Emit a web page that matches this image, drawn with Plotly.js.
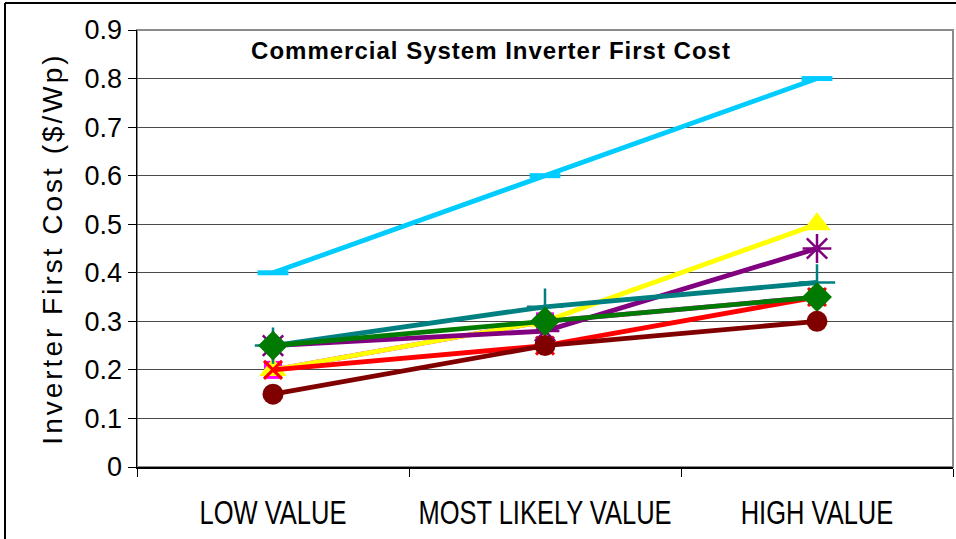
<!DOCTYPE html>
<html>
<head>
<meta charset="utf-8">
<script src="https://cdn.plot.ly/plotly-3.0.1.min.js"></script>
<style>
  html, body { margin: 0; padding: 0; background: #ffffff; }
  #chart { width: 956px; height: 539px; }
  .ytitle { letter-spacing: 3px; }
  .gtitle { letter-spacing: 1px; }
</style>
</head>
<body>
<div id="chart"></div>
<script>
// Inverter first cost estimates ($/Wp) per scenario, one array per source
const categories = ["LOW VALUE", "MOST LIKELY VALUE", "HIGH VALUE"];

const seriesCyan    = [0.40, 0.60, 0.80];
const seriesMagenta = [0.20, 0.30, 0.35];
const seriesYellow  = [0.20, 0.30, 0.50];
const seriesRed     = [0.20, 0.25, 0.35];
const seriesPurple  = [0.25, 0.28, 0.45];
const seriesTeal    = [0.25, 0.33, 0.38];
const seriesGreen   = [0.25, 0.30, 0.35];
const seriesDarkRed = [0.15, 0.25, 0.30];

const yTicks = [0, 0.1, 0.2, 0.3, 0.4, 0.5, 0.6, 0.7, 0.8, 0.9];
const yTickText = ["0", "0.1", "0.2", "0.3", "0.4", "0.5", "0.6", "0.7", "0.8", "0.9"];

const LW = 4.8;

function series(y, color, marker) {
  return {
    type: "scatter",
    mode: "lines+markers",
    x: categories,
    y: y,
    line: { color: color, width: LW },
    marker: marker,
    showlegend: false,
    hoverinfo: "x+y"
  };
}

const traces = [
  series(seriesCyan, "#00CCFF",
    { symbol: "line-ew-open", size: 22, color: "#00CCFF", line: { color: "#00CCFF", width: 5 } }),
  series(seriesMagenta, "#FF00FF",
    { symbol: "square", size: 18, color: "#FF00FF", line: { width: 0 } }),
  series(seriesYellow, "#FFFF00",
    { symbol: "triangle-up", size: 24, color: "#FFFF00", line: { width: 0 } }),
  series(seriesRed, "#FF0000",
    { symbol: "x-thin-open", size: 18, color: "#FF0000", line: { color: "#FF0000", width: 3 } }),
  series(seriesPurple, "#800080",
    { symbol: "asterisk-open", size: 24, color: "#800080", line: { color: "#800080", width: 2.5 } }),
  series(seriesTeal, "#008080",
    { symbol: "cross-thin-open", size: 26, color: "#008080", line: { color: "#008080", width: 2.5 } }),
  series(seriesGreen, "#007A00",
    { symbol: "diamond", size: 23, color: "#007A00", line: { width: 0 } }),
  series(seriesDarkRed, "#800000",
    { symbol: "circle", size: 21, color: "#800000", line: { width: 0 } })
];

const font = "Liberation Sans, Arial, sans-serif";

// plot area: x 137..953 px, y 30..467 px
const px = v => (v - 137) / 816;
const py = v => (467 - v) / 437;

const layout = {
  width: 956,
  height: 539,
  margin: { l: 137, r: 3, t: 30, b: 72, pad: 0 },
  paper_bgcolor: "#ffffff",
  plot_bgcolor: "#ffffff",
  title: {
    text: "<b>Commercial System Inverter First Cost</b>",
    font: { family: font, size: 24, color: "#000000" },
    xref: "paper",
    x: px(491),
    xanchor: "center",
    yref: "container",
    y: 1 - 51 / 539,
    yanchor: "middle"
  },
  xaxis: {
    type: "category",
    categoryorder: "array",
    categoryarray: categories,
    range: [-0.5, 2.5],
    tickson: "boundaries",
    ticks: "outside",
    ticklen: 8,
    tickwidth: 1,
    tickcolor: "#000000",
    tickangle: 0,
    showline: true,
    linecolor: "#000000",
    linewidth: 1.5,
    showgrid: false,
    zeroline: false,
    tickfont: { family: font, size: 34, color: "#000000" },
    ticklabelstandoff: 15,
    automargin: false,
    fixedrange: true
  },
  yaxis: {
    range: [0, 0.9],
    tickmode: "array",
    tickvals: yTicks,
    ticktext: yTickText,
    ticks: "outside",
    ticklen: 8,
    tickwidth: 1,
    tickcolor: "#000000",
    showline: true,
    linecolor: "#000000",
    linewidth: 1.5,
    showgrid: true,
    gridcolor: "#4a4a4a",
    gridwidth: 1,
    zeroline: false,
    tickfont: { family: font, size: 27, color: "#000000" },
    ticklabelstandoff: 0,
    title: {
      text: "Inverter First Cost ($/Wp)",
      font: { family: font, size: 28, color: "#000000" },
      standoff: 14
    },
    automargin: false,
    fixedrange: true
  },
  shapes: [
    // grey frame of the plot area
    { type: "rect", xref: "paper", yref: "paper", x0: 0, x1: 1, y0: 0, y1: 1,
      line: { color: "#8c8c8c", width: 2 }, layer: "below" },
    // outer chart border (top and left edges)
    { type: "line", xref: "paper", yref: "paper", x0: px(5), x1: px(960), y0: py(3), y1: py(3),
      line: { color: "#000000", width: 2 } },
    { type: "line", xref: "paper", yref: "paper", x0: px(5), x1: px(5), y0: py(3), y1: py(545),
      line: { color: "#000000", width: 2 } }
  ]
};

Plotly.newPlot("chart", traces, layout, { displayModeBar: false, staticPlot: true })
  .then(gd => {
    // narrow the category labels, like a condensed face
    gd.querySelectorAll(".xtick text").forEach(t => {
      const w = t.getComputedTextLength();
      t.setAttribute("textLength", (w * 0.75).toFixed(1));
      t.setAttribute("lengthAdjust", "spacingAndGlyphs");
    });
  });
</script>
</body>
</html>
